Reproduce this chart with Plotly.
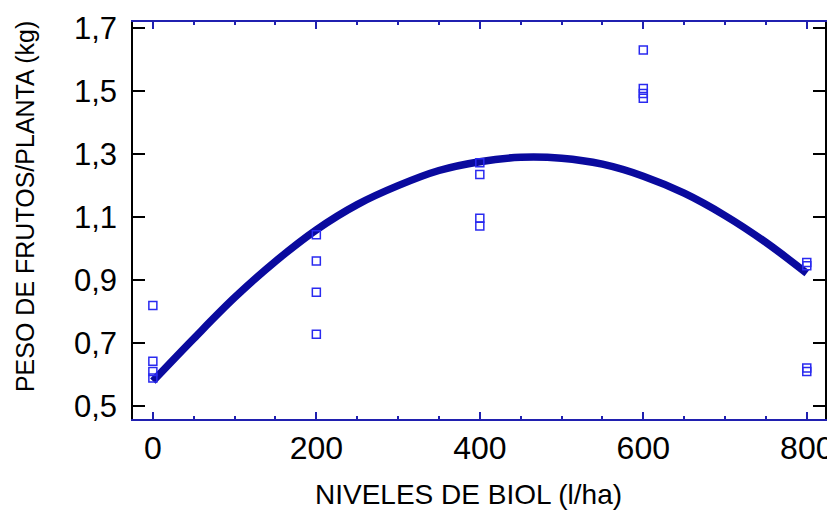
import plotly.graph_objects as go

x_obs = [0, 0, 0, 0,
         200, 200, 200, 200,
         400, 400, 400, 400,
         600, 600, 600, 600,
         800, 800, 800, 800]
y_obs = [0.82, 0.643, 0.611, 0.59,
         1.044, 0.961, 0.862, 0.729,
         1.273, 1.235, 1.097, 1.072,
         1.63, 1.508, 1.492, 1.477,
         0.956, 0.946, 0.622, 0.611]

# Fitted curve
x_fit = [0, 50, 100, 150, 200, 250, 300, 350, 400, 450, 500, 550, 600, 650, 700, 750, 800]
y_fit = [0.58, 0.715, 0.845, 0.96, 1.06, 1.14, 1.20, 1.248, 1.276, 1.29, 1.287, 1.268,
         1.23, 1.176, 1.105, 1.02, 0.922]

x_ticks = [0, 200, 400, 600, 800]
x_ticktext = ["0", "200", "400", "600", "800"]
y_ticks = [0.5, 0.7, 0.9, 1.1, 1.3, 1.5, 1.7]
y_ticktext = ["0,5", "0,7", "0,9", "1,1", "1,3", "1,5", "1,7"]

x_title = "NIVELES DE BIOL (l/ha)"
y_title = "PESO DE FRUTOS/PLANTA (kg)"

FONT = "Liberation Sans, Arial, sans-serif"
BLUE_AX = "#2020B0"

fig = go.Figure()
fig.add_trace(go.Scatter(
    x=x_fit, y=y_fit, mode="lines",
    line=dict(color="#0A0A9E", width=7.5, shape="spline"),
    hoverinfo="skip", showlegend=False))
fig.add_trace(go.Scatter(
    x=x_obs, y=y_obs, mode="markers",
    marker=dict(symbol="square-open", size=8, color="#2A2AF0", line=dict(width=1.5)),
    showlegend=False))

# The page body adds an 8 px offset, so margins are shifted by -8 px
fig.update_layout(
    width=835, height=516,
    margin=dict(l=125, r=18, t=14, b=105, autoexpand=False),
    paper_bgcolor="white", plot_bgcolor="white",
    font=dict(family=FONT, color="black"),
    annotations=[
        dict(text=x_title, xref="paper", yref="paper", x=0.485, y=-0.19,
             xanchor="center", yanchor="middle", showarrow=False,
             font=dict(size=28, family=FONT, color="black")),
        dict(text=y_title, xref="paper", yref="paper", x=-0.156, y=0.534,
             xanchor="center", yanchor="middle", showarrow=False, textangle=-90,
             font=dict(size=25, family=FONT, color="black")),
    ],
)
fig.update_xaxes(
    range=[-24.3, 822.3], automargin=False,
    tickvals=x_ticks, ticktext=x_ticktext,
    showgrid=False, zeroline=False,
    showline=True, linecolor=BLUE_AX, linewidth=1.5, mirror="ticks",
    ticks="inside", ticklen=7, tickcolor=BLUE_AX, tickwidth=1.5,
    minor=dict(dtick=50, tick0=0, ticks="inside", ticklen=3, tickcolor=BLUE_AX, tickwidth=1.5),
    tickfont=dict(size=32, family=FONT, color="black"),
    ticklabelstandoff=0, ticklabeloverflow="allow",
)
fig.update_yaxes(
    range=[0.460, 1.719], automargin=False,
    tickvals=y_ticks, ticktext=y_ticktext,
    showgrid=False, zeroline=False,
    showline=True, linecolor="black", linewidth=1.5, mirror="ticks",
    ticks="inside", ticklen=12, tickcolor="black", tickwidth=1.5,
    tickfont=dict(size=31, family=FONT, color="black"),
    ticklabelstandoff=8, ticklabeloverflow="allow",
)

fig.write_html("out.html")
